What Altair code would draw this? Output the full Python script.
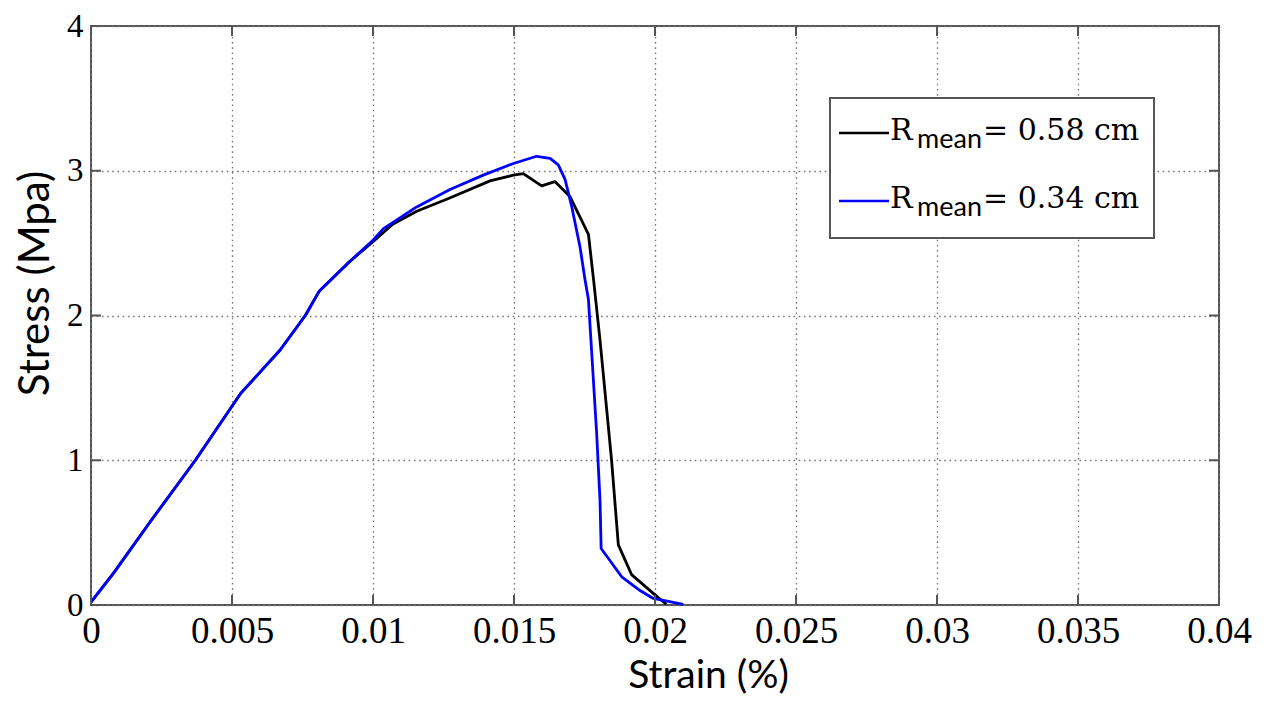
import altair as alt
import pandas as pd

# ---- data ----
black_strain = [0.0, 0.0008, 0.0021, 0.0037, 0.0053, 0.0067, 0.0076, 0.0081, 0.0091, 0.0100,
                0.0107, 0.01155, 0.0127, 0.01415, 0.01498, 0.01533, 0.01598, 0.01645, 0.01699,
                0.01764, 0.01782, 0.01805, 0.01846, 0.0187, 0.01917, 0.0200, 0.0204]
black_stress = [0.02, 0.22, 0.575, 1.0, 1.46, 1.76, 2.0, 2.17, 2.36, 2.51,
                2.63, 2.72, 2.81, 2.93, 2.97, 2.98, 2.895, 2.925, 2.82,
                2.56, 2.25, 1.83, 1.0, 0.415, 0.21, 0.07, 0.005]

blue_strain = [0.0, 0.0008, 0.0021, 0.0037, 0.0053, 0.0067, 0.0076, 0.0081, 0.0091, 0.0100,
               0.01037, 0.01155, 0.01273, 0.01391, 0.01498, 0.0158, 0.01628, 0.01657, 0.01681,
               0.01705, 0.01734, 0.01752, 0.01764, 0.01775, 0.01793, 0.01805, 0.01809,
               0.01882, 0.01947, 0.01994, 0.0210]
blue_stress = [0.02, 0.22, 0.575, 1.0, 1.46, 1.76, 2.0, 2.17, 2.36, 2.52,
               2.60, 2.75, 2.87, 2.97, 3.05, 3.10, 3.085, 3.04, 2.94,
               2.75, 2.475, 2.245, 2.11, 1.76, 1.19, 0.725, 0.39,
               0.195, 0.10, 0.045, 0.005]

series_names = ["R_mean = 0.58 cm", "R_mean = 0.34 cm"]
series_colors = ["#000000", "#0000ff"]
legend_main = ["R", "R"]
legend_sub = ["mean", "mean"]
legend_rest = ["= 0.58 cm", "= 0.34 cm"]

x_ticks = [0, 0.005, 0.01, 0.015, 0.02, 0.025, 0.03, 0.035, 0.04]
y_ticks = [0, 1, 2, 3, 4]

W, H = 1128, 579

rows = []
for s, v in zip(black_strain, black_stress):
    rows.append({"strain": s, "stress": v, "series": series_names[0], "order": len(rows)})
for s, v in zip(blue_strain, blue_stress):
    rows.append({"strain": s, "stress": v, "series": series_names[1], "order": len(rows)})
df = pd.DataFrame(rows)

xscale = alt.Scale(domain=[0, 0.04], nice=False, zero=False)
yscale = alt.Scale(domain=[0, 4], nice=False, zero=False)

xaxis = alt.Axis(values=x_ticks, format="~g", title="Strain (%)", grid=True,
                 ticks=False, domain=False, labelFont="Liberation Serif", labelFontSize=37,
                 labelPadding=8, labelColor="#000", titleFont="Lato", titleFontSize=39,
                 titleFontWeight="normal", titleColor="#000", titleX=617, titleY=82,
                 titleBaseline="alphabetic", titleAnchor="middle", titleAlign="center",
                 labelFlush=False, labelOverlap=False)
yaxis = alt.Axis(values=y_ticks, format="d", title="Stress (Mpa)", grid=True,
                 ticks=False, domain=False, labelFont="Liberation Serif", labelFontSize=33,
                 labelPadding=8, labelColor="#000", titleFont="Lato", titleFontSize=42,
                 titleFontWeight="normal", titleColor="#000", titleX=-43, titleY=257,
                 titleBaseline="alphabetic", titleAngle=270, titleAlign="center",
                 labelFlush=False, labelOverlap=False)

lines = alt.Chart(df).mark_line(strokeWidth=2.8, strokeJoin="round").encode(
    x=alt.X("strain:Q", scale=xscale, axis=xaxis),
    y=alt.Y("stress:Q", scale=yscale, axis=yaxis),
    color=alt.Color("series:N", scale=alt.Scale(domain=series_names, range=series_colors), legend=None),
    order="order:Q",
)

xt = pd.DataFrame({"strain": x_ticks})
yt = pd.DataFrame({"stress": y_ticks})
tick_style = dict(color="#555555", strokeWidth=2)
tb = alt.Chart(xt).mark_rule(**tick_style).encode(
    x=alt.X("strain:Q", scale=xscale), y=alt.value(H), y2=alt.value(H - 10))
tt = alt.Chart(xt).mark_rule(**tick_style).encode(
    x=alt.X("strain:Q", scale=xscale), y=alt.value(0), y2=alt.value(10))
tl = alt.Chart(yt).mark_rule(**tick_style).encode(
    y=alt.Y("stress:Q", scale=yscale), x=alt.value(0), x2=alt.value(10))
tr = alt.Chart(yt).mark_rule(**tick_style).encode(
    y=alt.Y("stress:Q", scale=yscale), x=alt.value(W), x2=alt.value(W - 10))

# ---- legend box (annotation) ----
leg_df = pd.DataFrame({"series": series_names, "main": legend_main,
                       "sub": legend_sub, "rest": legend_rest})
box = alt.Chart(leg_df.head(1)).mark_rect(fill="white", stroke="#555555", strokeWidth=2).encode(
    x=alt.value(739), x2=alt.value(1063), y=alt.value(72), y2=alt.value(212))

legend_layers = [box]
for i in range(2):
    row = leg_df.iloc[[i]]
    dy = i * 68
    legend_layers.append(alt.Chart(row).mark_rule(color=series_colors[i], strokeWidth=2.4).encode(
        x=alt.value(748), x2=alt.value(798), y=alt.value(107 + dy)))
    legend_layers.append(alt.Chart(row).mark_text(
        font="DejaVu Serif", fontSize=30, align="left", baseline="alphabetic", color="#000").encode(
        text="main:N", x=alt.value(799), y=alt.value(114 + dy)))
    legend_layers.append(alt.Chart(row).mark_text(
        font="Lato", fontSize=27, align="left", baseline="alphabetic", color="#000").encode(
        text="sub:N", x=alt.value(826), y=alt.value(122 + dy)))
    legend_layers.append(alt.Chart(row).mark_text(
        font="DejaVu Serif", fontSize=30, align="left", baseline="alphabetic", color="#000").encode(
        text="rest:N", x=alt.value(892), y=alt.value(114 + dy)))

chart = alt.layer(lines, tb, tt, tl, tr, *legend_layers).properties(
    width=W, height=H,
    autosize=alt.AutoSizeParams(type="none"),
    padding={"left": 83, "top": 18, "right": 40, "bottom": 100},
    background="white",
).configure_view(
    stroke="#555555", strokeWidth=2
).configure_axis(
    gridColor="#777777", gridDash=[1.6, 3.6], gridWidth=1.3, gridOpacity=1
)

chart.save("out.html", embed_options={"renderer": "svg", "actions": False})
